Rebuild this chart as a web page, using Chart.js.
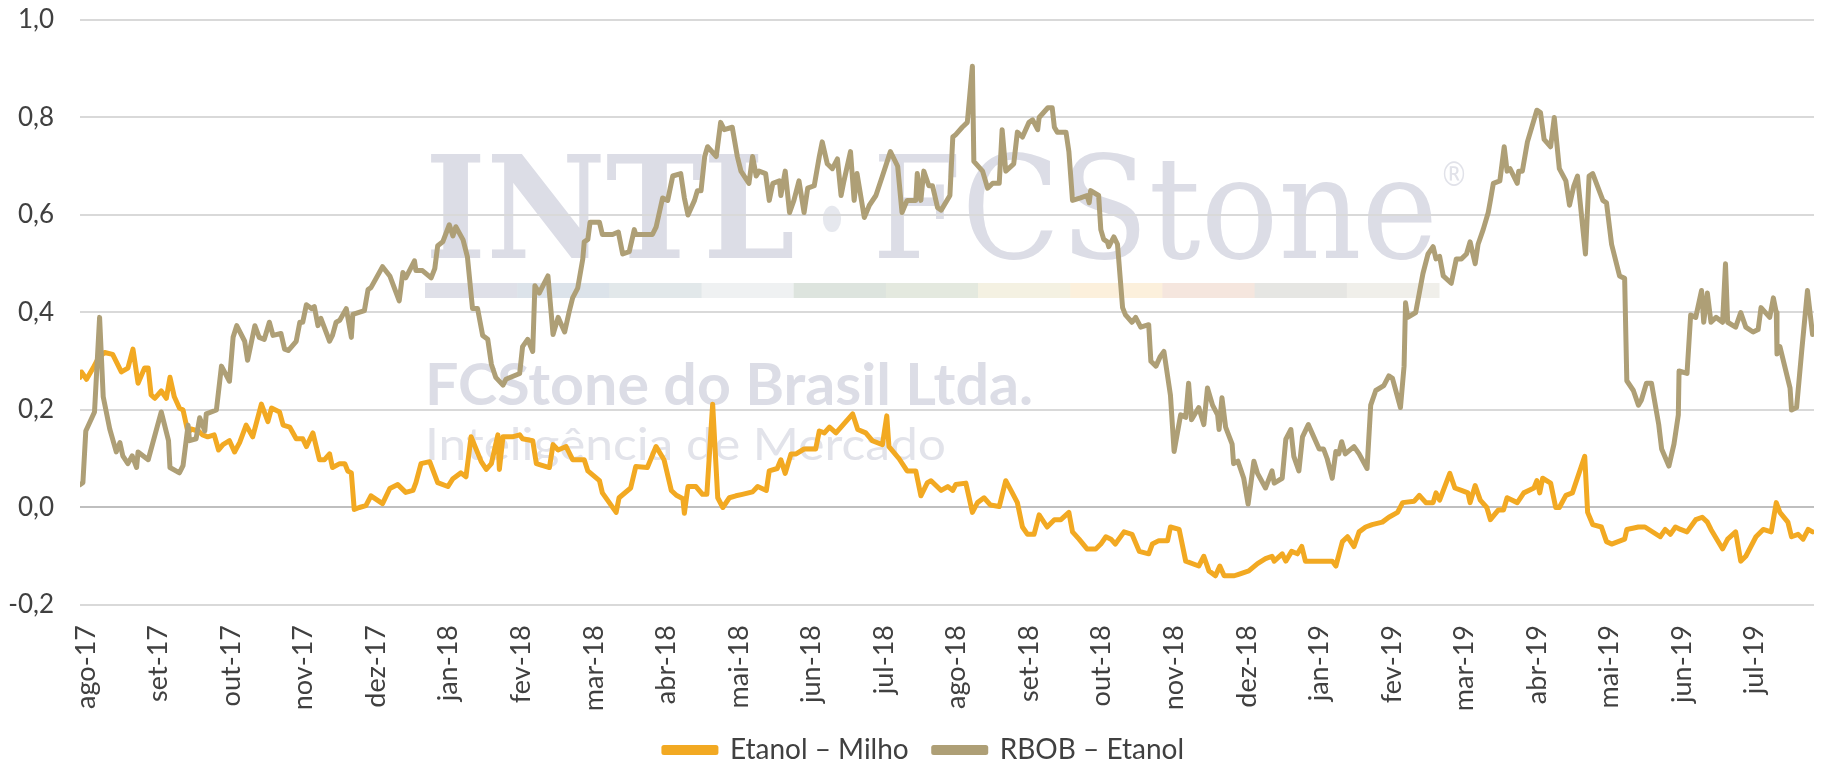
<!DOCTYPE html>
<html lang="pt-BR">
<head>
<meta charset="utf-8">
<title>Etanol – Milho / RBOB – Etanol</title>
<script src="https://cdn.jsdelivr.net/npm/chart.js@4.4.1/dist/chart.umd.min.js"></script>
<style>
  html, body { margin: 0; padding: 0; background: #ffffff; }
  #wrap { width: 1825px; height: 765px; }
</style>
</head>
<body>
<div id="wrap"><canvas id="spreadChart" width="1825" height="765"></canvas></div>
<script>
// tick labels (one per month, x = months since ago-17)
const monthLabels = ['ago-17', 'set-17', 'out-17', 'nov-17', 'dez-17', 'jan-18', 'fev-18', 'mar-18',
    'abr-18', 'mai-18', 'jun-18', 'jul-18', 'ago-18', 'set-18', 'out-18', 'nov-18', 'dez-18',
    'jan-19', 'fev-19', 'mar-19', 'abr-19', 'mai-19', 'jun-19', 'jul-19'];

const yTicks = [-0.2, 0, 0.2, 0.4, 0.6, 0.8, 1.0];

// Etanol – Milho
const etanolMilhoX = [0.00, 0.02, 0.09, 0.18, 0.25, 0.34, 0.45, 0.57, 0.66, 0.73, 0.80, 0.89, 0.94, 0.98, 1.03, 1.12,
    1.19, 1.24, 1.30, 1.37, 1.42, 1.49, 1.53, 1.63, 1.69, 1.76, 1.85, 1.91, 1.97, 2.06, 2.13, 2.20, 2.29, 2.38, 2.50,
    2.59, 2.64, 2.75, 2.80, 2.89, 2.98, 3.07, 3.12, 3.21, 3.30, 3.37, 3.44, 3.48, 3.58, 3.65, 3.69, 3.74, 3.78, 3.85,
    3.94, 4.01, 4.17, 4.27, 4.38, 4.49, 4.59, 4.63, 4.70, 4.82, 4.93, 5.07, 5.14, 5.25, 5.32, 5.39, 5.53, 5.60, 5.67,
    5.76, 5.78, 5.83, 5.96, 6.06, 6.10, 6.24, 6.29, 6.47, 6.52, 6.59, 6.70, 6.79, 6.95, 7.00, 7.16, 7.20, 7.39, 7.43,
    7.59, 7.66, 7.82, 7.94, 8.05, 8.15, 8.22, 8.31, 8.33, 8.38, 8.49, 8.58, 8.64, 8.72, 8.79, 8.86, 8.95, 9.04, 9.13,
    9.27, 9.34, 9.46, 9.50, 9.61, 9.66, 9.72, 9.80, 9.87, 9.98, 10.14, 10.19, 10.26, 10.33, 10.42, 10.65, 10.72,
    10.83, 10.92, 11.06, 11.12, 11.15, 11.29, 11.40, 11.52, 11.59, 11.68, 11.73, 11.87, 11.96, 12.03, 12.07, 12.21,
    12.30, 12.37, 12.46, 12.55, 12.67, 12.76, 12.85, 12.92, 12.99, 13.06, 13.15, 13.22, 13.33, 13.43, 13.52, 13.63,
    13.68, 13.77, 13.88, 14.00, 14.07, 14.14, 14.21, 14.27, 14.39, 14.50, 14.60, 14.73, 14.78, 14.87, 14.99, 15.03,
    15.15, 15.24, 15.42, 15.49, 15.56, 15.65, 15.71, 15.77, 15.91, 15.97, 16.11, 16.23, 16.34, 16.43, 16.46, 16.57,
    16.62, 16.70, 16.78, 16.84, 16.89, 17.26, 17.31, 17.40, 17.47, 17.56, 17.63, 17.72, 17.81, 17.95, 18.04, 18.16,
    18.23, 18.39, 18.46, 18.55, 18.65, 18.69, 18.74, 18.88, 18.95, 19.04, 19.13, 19.16, 19.23, 19.30, 19.39, 19.44,
    19.55, 19.62, 19.67, 19.81, 19.90, 20.04, 20.08, 20.12, 20.16, 20.27, 20.34, 20.39, 20.48, 20.57, 20.74, 20.78,
    20.85, 20.97, 21.04, 21.11, 21.29, 21.32, 21.48, 21.57, 21.78, 21.85, 21.92, 21.99, 22.06, 22.15, 22.27, 22.36,
    22.43, 22.48, 22.64, 22.71, 22.82, 22.89, 22.96, 23.10, 23.20, 23.31, 23.38, 23.43, 23.54, 23.59, 23.68, 23.75,
    23.82, 23.88];
const etanolMilhoY = [0.267, 0.278, 0.263, 0.286, 0.306, 0.318, 0.314, 0.278, 0.286, 0.325, 0.255, 0.286, 0.286,
    0.231, 0.224, 0.239, 0.224, 0.267, 0.227, 0.204, 0.200, 0.153, 0.161, 0.157, 0.149, 0.145, 0.149, 0.118, 0.129,
    0.137, 0.114, 0.133, 0.169, 0.145, 0.212, 0.176, 0.204, 0.196, 0.169, 0.165, 0.141, 0.141, 0.125, 0.153, 0.098,
    0.098, 0.110, 0.082, 0.090, 0.090, 0.075, 0.071, -0.004, 0.000, 0.004, 0.024, 0.008, 0.039, 0.047, 0.031, 0.035,
    0.051, 0.090, 0.094, 0.051, 0.043, 0.059, 0.071, 0.063, 0.145, 0.094, 0.078, 0.090, 0.149, 0.078, 0.145, 0.145,
    0.149, 0.141, 0.137, 0.090, 0.082, 0.129, 0.118, 0.125, 0.098, 0.098, 0.075, 0.055, 0.030, -0.010, 0.020, 0.040,
    0.084, 0.082, 0.125, 0.098, 0.035, 0.025, 0.018, -0.012, 0.043, 0.043, 0.027, 0.027, 0.212, 0.020, 0.000, 0.020,
    0.024, 0.027, 0.032, 0.043, 0.035, 0.075, 0.080, 0.098, 0.070, 0.110, 0.110, 0.120, 0.120, 0.157, 0.153, 0.165,
    0.153, 0.192, 0.160, 0.153, 0.137, 0.129, 0.188, 0.125, 0.100, 0.075, 0.075, 0.024, 0.051, 0.055, 0.035, 0.043,
    0.035, 0.047, 0.050, -0.010, 0.010, 0.020, 0.005, 0.002, 0.055, 0.030, 0.010, -0.040, -0.055, -0.055, -0.015,
    -0.040, -0.025, -0.025, -0.010, -0.050, -0.065, -0.085, -0.085, -0.075, -0.060, -0.065, -0.075, -0.050, -0.055,
    -0.090, -0.095, -0.075, -0.068, -0.068, -0.040, -0.045, -0.110, -0.120, -0.100, -0.130, -0.140, -0.120, -0.140,
    -0.140, -0.137, -0.130, -0.115, -0.105, -0.100, -0.110, -0.095, -0.110, -0.090, -0.095, -0.080, -0.110, -0.110,
    -0.120, -0.070, -0.060, -0.080, -0.050, -0.040, -0.035, -0.030, -0.020, -0.010, 0.010, 0.013, 0.025, 0.010, 0.010,
    0.030, 0.015, 0.070, 0.040, 0.035, 0.030, 0.010, 0.045, 0.015, 0.000, -0.025, -0.005, -0.005, 0.020, 0.010, 0.030,
    0.040, 0.055, 0.030, 0.060, 0.050, 0.000, 0.000, 0.025, 0.030, 0.105, -0.010, -0.035, -0.040, -0.070, -0.075,
    -0.065, -0.045, -0.040, -0.040, -0.060, -0.045, -0.055, -0.040, -0.045, -0.050, -0.025, -0.020, -0.030, -0.045,
    -0.085, -0.065, -0.050, -0.110, -0.100, -0.060, -0.045, -0.050, 0.010, -0.010, -0.030, -0.060, -0.055, -0.065,
    -0.045, -0.050];

// RBOB – Etanol
const rbobEtanolX = [0.00, 0.04, 0.08, 0.20, 0.27, 0.32, 0.41, 0.50, 0.55, 0.59, 0.66, 0.72, 0.78, 0.80, 0.94, 1.12,
    1.22, 1.24, 1.37, 1.42, 1.49, 1.51, 1.60, 1.65, 1.72, 1.74, 1.88, 1.95, 2.06, 2.11, 2.16, 2.27, 2.31, 2.41, 2.47,
    2.54, 2.61, 2.66, 2.77, 2.82, 2.87, 2.98, 3.03, 3.07, 3.12, 3.19, 3.23, 3.28, 3.32, 3.44, 3.48, 3.53, 3.58, 3.67,
    3.74, 3.76, 3.92, 3.97, 4.01, 4.17, 4.27, 4.40, 4.45, 4.49, 4.61, 4.63, 4.72, 4.84, 4.89, 4.93, 5.00, 5.09, 5.14,
    5.18, 5.28, 5.34, 5.41, 5.48, 5.55, 5.62, 5.67, 5.73, 5.83, 5.87, 6.06, 6.10, 6.17, 6.24, 6.27, 6.33, 6.45, 6.52,
    6.59, 6.68, 6.74, 6.79, 6.86, 6.93, 6.95, 7.00, 7.03, 7.16, 7.20, 7.34, 7.42, 7.48, 7.57, 7.64, 7.66, 7.89, 7.94,
    8.03, 8.10, 8.17, 8.28, 8.33, 8.38, 8.47, 8.51, 8.56, 8.61, 8.65, 8.77, 8.83, 8.88, 8.99, 9.06, 9.11, 9.22, 9.27,
    9.32, 9.36, 9.45, 9.50, 9.55, 9.64, 9.66, 9.72, 9.78, 9.84, 9.91, 9.98, 10.03, 10.12, 10.19, 10.23, 10.30, 10.37,
    10.44, 10.49, 10.53, 10.62, 10.67, 10.71, 10.81, 10.88, 10.97, 11.06, 11.17, 11.27, 11.33, 11.40, 11.52, 11.54,
    11.59, 11.63, 11.70, 11.75, 11.82, 11.87, 11.99, 12.03, 12.07, 12.16, 12.23, 12.30, 12.32, 12.44, 12.51, 12.58,
    12.67, 12.71, 12.76, 12.87, 12.92, 12.99, 13.08, 13.13, 13.20, 13.22, 13.34, 13.40, 13.43, 13.47, 13.59, 13.63,
    13.68, 13.79, 13.88, 13.91, 13.93, 14.04, 14.07, 14.11, 14.16, 14.18, 14.25, 14.30, 14.37, 14.41, 14.50, 14.55,
    14.62, 14.73, 14.76, 14.83, 14.89, 14.94, 15.03, 15.08, 15.17, 15.24, 15.28, 15.32, 15.42, 15.49, 15.54, 15.61,
    15.68, 15.70, 15.74, 15.79, 15.88, 15.90, 15.96, 16.04, 16.10, 16.18, 16.23, 16.34, 16.43, 16.46, 16.57, 16.62,
    16.69, 16.73, 16.80, 16.85, 16.93, 17.08, 17.14, 17.19, 17.26, 17.31, 17.35, 17.39, 17.44, 17.56, 17.63, 17.74,
    17.79, 17.86, 17.97, 18.04, 18.09, 18.20, 18.25, 18.27, 18.30, 18.41, 18.51, 18.58, 18.65, 18.69, 18.74, 18.79,
    18.90, 18.97, 19.04, 19.11, 19.16, 19.23, 19.27, 19.34, 19.41, 19.44, 19.48, 19.57, 19.63, 19.67, 19.71, 19.81,
    19.83, 19.88, 19.95, 20.08, 20.13, 20.18, 20.27, 20.32, 20.39, 20.48, 20.53, 20.59, 20.64, 20.75, 20.80, 20.85,
    20.99, 21.04, 21.11, 21.22, 21.29, 21.32, 21.41, 21.48, 21.52, 21.59, 21.66, 21.76, 21.80, 21.90, 21.97, 22.03,
    22.04, 22.15, 22.20, 22.27, 22.35, 22.38, 22.43, 22.48, 22.55, 22.64, 22.68, 22.71, 22.82, 22.89, 22.96, 23.06,
    23.13, 23.17, 23.29, 23.34, 23.38, 23.39, 23.43, 23.57, 23.59, 23.66, 23.73, 23.81, 23.88];
const rbobEtanolY = [0.047, 0.051, 0.157, 0.196, 0.390, 0.227, 0.161, 0.114, 0.133, 0.106, 0.090, 0.106, 0.082, 0.114,
    0.098, 0.196, 0.137, 0.082, 0.071, 0.086, 0.169, 0.137, 0.141, 0.184, 0.157, 0.192, 0.200, 0.290, 0.259, 0.349,
    0.373, 0.341, 0.302, 0.373, 0.349, 0.345, 0.380, 0.353, 0.357, 0.325, 0.322, 0.341, 0.380, 0.380, 0.416, 0.408,
    0.412, 0.373, 0.388, 0.341, 0.353, 0.380, 0.384, 0.408, 0.349, 0.396, 0.404, 0.447, 0.451, 0.494, 0.475, 0.424,
    0.482, 0.471, 0.506, 0.486, 0.486, 0.471, 0.490, 0.537, 0.545, 0.580, 0.557, 0.576, 0.549, 0.514, 0.408, 0.408,
    0.353, 0.345, 0.294, 0.267, 0.251, 0.263, 0.275, 0.330, 0.345, 0.320, 0.455, 0.440, 0.475, 0.355, 0.390, 0.360,
    0.400, 0.430, 0.450, 0.510, 0.545, 0.550, 0.585, 0.585, 0.560, 0.560, 0.565, 0.520, 0.525, 0.570, 0.560, 0.560,
    0.575, 0.635, 0.630, 0.680, 0.685, 0.635, 0.600, 0.630, 0.650, 0.650, 0.720, 0.740, 0.720, 0.790, 0.775, 0.780,
    0.720, 0.690, 0.665, 0.720, 0.680, 0.690, 0.685, 0.630, 0.665, 0.670, 0.640, 0.690, 0.605, 0.630, 0.670, 0.605,
    0.655, 0.660, 0.720, 0.750, 0.705, 0.695, 0.715, 0.640, 0.670, 0.730, 0.630, 0.685, 0.595, 0.620, 0.640, 0.680,
    0.730, 0.700, 0.605, 0.630, 0.630, 0.685, 0.630, 0.690, 0.660, 0.660, 0.615, 0.610, 0.640, 0.760, 0.765, 0.780,
    0.790, 0.905, 0.710, 0.690, 0.655, 0.665, 0.665, 0.775, 0.690, 0.705, 0.770, 0.760, 0.790, 0.795, 0.775, 0.800,
    0.820, 0.820, 0.780, 0.770, 0.770, 0.730, 0.630, 0.635, 0.640, 0.625, 0.650, 0.640, 0.570, 0.550, 0.545, 0.535,
    0.555, 0.540, 0.410, 0.395, 0.380, 0.390, 0.370, 0.375, 0.300, 0.290, 0.310, 0.320, 0.230, 0.115, 0.190, 0.185,
    0.255, 0.180, 0.205, 0.170, 0.245, 0.210, 0.190, 0.160, 0.225, 0.165, 0.130, 0.090, 0.095, 0.060, 0.007, 0.095,
    0.070, 0.040, 0.075, 0.050, 0.060, 0.140, 0.160, 0.105, 0.075, 0.145, 0.170, 0.120, 0.120, 0.100, 0.060, 0.115,
    0.110, 0.135, 0.110, 0.125, 0.110, 0.080, 0.210, 0.240, 0.250, 0.270, 0.265, 0.205, 0.290, 0.420, 0.390, 0.400,
    0.480, 0.520, 0.535, 0.510, 0.515, 0.475, 0.460, 0.510, 0.510, 0.520, 0.545, 0.500, 0.540, 0.570, 0.605, 0.630,
    0.665, 0.670, 0.740, 0.690, 0.695, 0.665, 0.690, 0.690, 0.750, 0.815, 0.810, 0.755, 0.740, 0.800, 0.695, 0.670,
    0.620, 0.660, 0.680, 0.520, 0.680, 0.685, 0.630, 0.625, 0.540, 0.475, 0.470, 0.260, 0.240, 0.210, 0.220, 0.255,
    0.255, 0.170, 0.120, 0.085, 0.130, 0.190, 0.280, 0.275, 0.395, 0.390, 0.445, 0.380, 0.440, 0.380, 0.390, 0.380,
    0.500, 0.380, 0.370, 0.400, 0.370, 0.360, 0.365, 0.410, 0.390, 0.430, 0.400, 0.315, 0.330, 0.245, 0.200, 0.205,
    0.320, 0.445, 0.355];

const toPoints = (xs, ys) => xs.map((x, i) => ({ x: x, y: ys[i] }));

// faint company watermark behind the plot
const watermark = {
    id: 'watermark',
    beforeDraw(chart) {
        const ctx = chart.ctx;
        ctx.save();
        ctx.textAlign = 'left';
        ctx.textBaseline = 'alphabetic';

        function fitText(text, font, x, baseline, width, color) {
            ctx.font = font;
            ctx.fillStyle = color;
            const w = ctx.measureText(text).width;
            ctx.save();
            ctx.translate(x, baseline);
            ctx.scale(width / w, 1);
            ctx.fillText(text, 0, 0);
            ctx.restore();
        }

        fitText('INTL', 'bold 142px "DejaVu Serif"', 425, 258, 370, '#dcdde6');
        fitText('·', 'bold 142px "DejaVu Serif"', 815, 268, 34, '#e6e8ee');
        fitText('FCStone', '142px "DejaVu Serif"', 872, 258, 566, '#dcdde6');
        fitText('®', '34px "DejaVu Sans"', 1440, 186, 28, '#e1e2e9');

        const band = ['#dfe0e8', '#dce3ea', '#e2e8ea', '#eff1f2', '#dde4de', '#e4e9df',
            '#f4f1e2', '#fcf0dc', '#f5e6de', '#e6e6e3', '#f0efea'];
        const bandW = (1439 - 425) / band.length;
        band.forEach((c, i) => {
            ctx.fillStyle = c;
            ctx.fillRect(425 + i * bandW, 283, bandW + 0.5, 15);
        });

        fitText('FCStone do Brasil Ltda.', 'bold 58px Lato', 425, 405, 608, '#dcdde6');
        fitText('Inteligência de Mercado', '44px Lato', 425, 460, 521, '#e2e3ea');
        ctx.restore();
    }
};

// centre the legend under the plot the way the original does
const legendNudge = {
    id: 'legendNudge',
    afterLayout(chart) {
        chart.legend.left += 17;
        chart.legend.right += 17;
    }
};

const fmt = v => (Math.abs(v) < 1e-9 ? 0 : v).toFixed(1).replace('.', ',');

Chart.defaults.font.family = 'Lato, "Open Sans", sans-serif';
Chart.defaults.color = '#404040';

new Chart(document.getElementById('spreadChart'), {
    type: 'line',
    data: {
        datasets: [
            {
                label: 'Etanol – Milho',
                data: toPoints(etanolMilhoX, etanolMilhoY),
                borderColor: '#f2a922',
                backgroundColor: '#f2a922',
                order: 1
            },
            {
                label: 'RBOB – Etanol',
                data: toPoints(rbobEtanolX, rbobEtanolY),
                borderColor: '#ae9f76',
                backgroundColor: '#ae9f76',
                order: 0
            }
        ]
    },
    options: {
        responsive: false,
        animation: false,
        events: [],
        layout: { padding: { left: 0, right: 11, top: 20, bottom: -9 } },
        elements: {
            line: { borderWidth: 5, tension: 0, borderJoinStyle: 'round', borderCapStyle: 'round' },
            point: { radius: 0 }
        },
        plugins: {
            tooltip: { enabled: false },
            legend: {
                position: 'bottom',
                labels: {
                    font: { size: 28 },
                    color: '#404040',
                    boxWidth: 52,
                    boxHeight: 5,
                    padding: 25,
                    sort: (a, b) => a.datasetIndex - b.datasetIndex
                }
            }
        },
        scales: {
            x: {
                type: 'linear',
                min: 0,
                max: 23.9,
                grid: { display: false, drawTicks: false },
                border: { display: false },
                ticks: {
                    stepSize: 1,
                    autoSkip: false,
                    includeBounds: false,
                    maxRotation: 90,
                    minRotation: 90,
                    padding: 20,
                    labelOffset: 6,
                    font: { size: 27 },
                    color: '#404040',
                    callback: v => monthLabels[v] !== undefined ? monthLabels[v] : ''
                },
                afterFit: scale => {
                    scale.height = 106;
                    scale.paddingLeft = 0;
                    scale.paddingRight = 0;
                }
            },
            y: {
                min: yTicks[0],
                max: yTicks[yTicks.length - 1],
                grid: {
                    drawTicks: false,
                    lineWidth: 2,
                    color: ctx => (ctx.tick && Math.abs(ctx.tick.value) < 1e-9) ? '#bfbfbf' : '#d9d9d9'
                },
                border: { display: false },
                afterBuildTicks: scale => {
                    scale.ticks = yTicks.map(v => ({ value: v }));
                },
                ticks: {
                    padding: 26,
                    font: { size: 26 },
                    color: '#404040',
                    callback: v => fmt(v)
                },
                afterFit: scale => {
                    scale.width = 80;
                    scale.paddingTop = 0;
                    scale.paddingBottom = 0;
                }
            }
        }
    },
    plugins: [watermark, legendNudge]
});
</script>
</body>
</html>
